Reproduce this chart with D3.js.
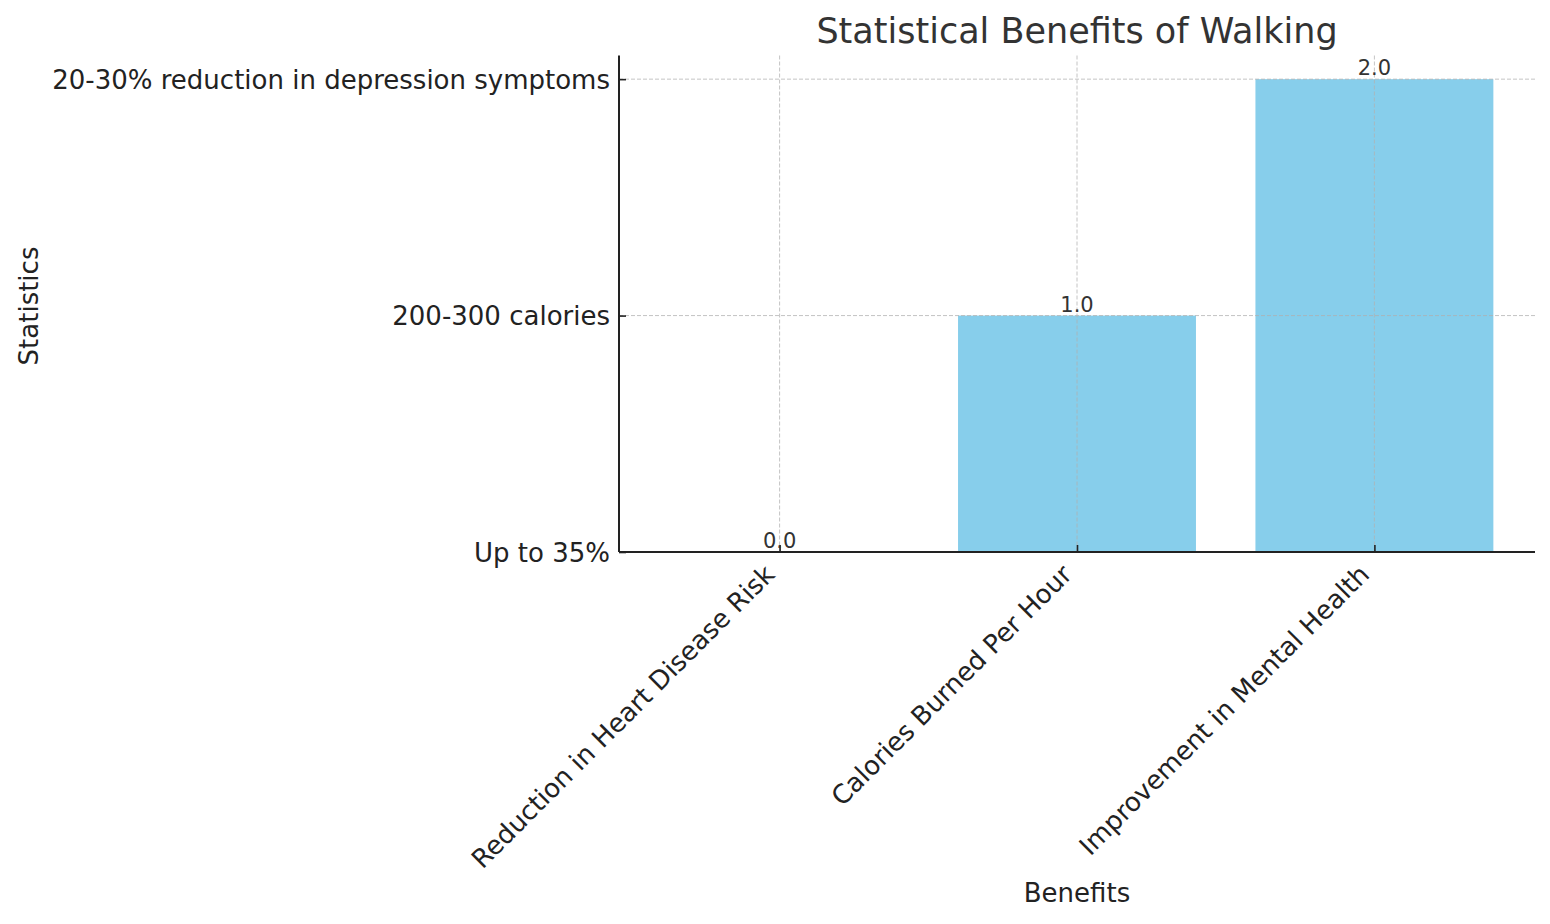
<!DOCTYPE html>
<html>
<head>
<meta charset="utf-8">
<script src="https://cdn.jsdelivr.net/npm/d3@7"></script>
<style>
  body { margin: 0; background: #fff; }
  svg { display: block; }
  text { font-family: "DejaVu Sans", sans-serif; }
</style>
</head>
<body>
<svg id="chart" width="1550" height="924"></svg>
<script>
const categories = ["Reduction in Heart Disease Risk", "Calories Burned Per Hour", "Improvement in Mental Health"];
const values = [0, 1, 2];
const yTickValues = [0, 1, 2];
const yTickLabels = ["Up to 35%", "200-300 calories", "20-30% reduction in depression symptoms"];
const title = "Statistical Benefits of Walking";
const xLabel = "Benefits";
const yLabel = "Statistics";

const svg = d3.select("#chart");
const pLeft = 619, pRight = 1535, pTop = 55.5, pBottom = 552;

const x = d3.scaleLinear().domain([-0.54, 2.54]).range([pLeft, pRight]);
const y = d3.scaleLinear().domain([0, 2.1]).range([pBottom, pTop]);
const barW = 0.8;

// bars
svg.append("g").selectAll("rect").data(values).join("rect")
  .attr("x", (d, i) => x(i - barW / 2))
  .attr("width", (d, i) => x(i + barW / 2) - x(i - barW / 2))
  .attr("y", d => y(d))
  .attr("height", d => y(0) - y(d))
  .attr("fill", "#87ceeb");

// grid on top
const grid = svg.append("g");
grid.selectAll("line.gx").data(categories).join("line")
  .attr("x1", (d, i) => x(i)).attr("x2", (d, i) => x(i))
  .attr("y1", pTop).attr("y2", pBottom)
  .attr("stroke", "#b0b0b0").attr("stroke-opacity", 0.75).attr("stroke-width", 1)
  .attr("stroke-dasharray", "4,2");
grid.selectAll("line.gy").data(yTickValues).join("line")
  .attr("x1", pLeft).attr("x2", pRight)
  .attr("y1", d => y(d)).attr("y2", d => y(d))
  .attr("stroke", "#b0b0b0").attr("stroke-opacity", 0.75).attr("stroke-width", 1)
  .attr("stroke-dasharray", "4,2");

// axes (ticks point inward)
const xAxis = d3.axisBottom(x).tickValues([0, 1, 2]).tickFormat(i => categories[i]).tickSize(-7).tickPadding(8);
const gx = svg.append("g").attr("transform", `translate(0,${pBottom})`).call(xAxis);
gx.select(".domain").attr("stroke", "#222").attr("stroke-width", 2).attr("d", `M${pLeft},0H${pRight}`);
gx.selectAll(".tick line").attr("stroke", "#222").attr("stroke-width", 1.6);
gx.selectAll(".tick text")
  .attr("font-size", 26).attr("fill", "#222")
  .attr("text-anchor", "end")
  .attr("dy", null)
  .attr("x", 0).attr("y", 0)
  .attr("transform", "translate(-4,24) rotate(-45)");

const yAxis = d3.axisLeft(y).tickValues(yTickValues).tickFormat((d, i) => yTickLabels[i]).tickSize(-7).tickPadding(9);
const gy = svg.append("g").attr("transform", `translate(${pLeft},0)`).call(yAxis);
gy.select(".domain").attr("stroke", "#222").attr("stroke-width", 2).attr("d", `M0,${pTop}V${pBottom}`);
gy.selectAll(".tick line").attr("stroke", "#222").attr("stroke-width", 1.6);
gy.selectAll(".tick text").attr("font-size", 26).attr("fill", "#222").attr("dy", "0.36em");

// value labels
svg.append("g").selectAll("text").data(values).join("text")
  .attr("x", (d, i) => x(i)).attr("y", d => y(d) - 4)
  .attr("text-anchor", "middle")
  .attr("font-size", 21).attr("fill", "#333")
  .text(d => d.toFixed(1));

// title & labels
svg.append("text").attr("x", (pLeft + pRight) / 2).attr("y", 43)
  .attr("text-anchor", "middle").attr("font-size", 35).attr("fill", "#333").text(title);
svg.append("text").attr("x", (pLeft + pRight) / 2).attr("y", 902)
  .attr("text-anchor", "middle").attr("font-size", 26).attr("fill", "#222").text(xLabel);
svg.append("text").attr("transform", `translate(38,306) rotate(-90)`)
  .attr("text-anchor", "middle").attr("font-size", 26).attr("fill", "#222").text(yLabel);
</script>
</body>
</html>
